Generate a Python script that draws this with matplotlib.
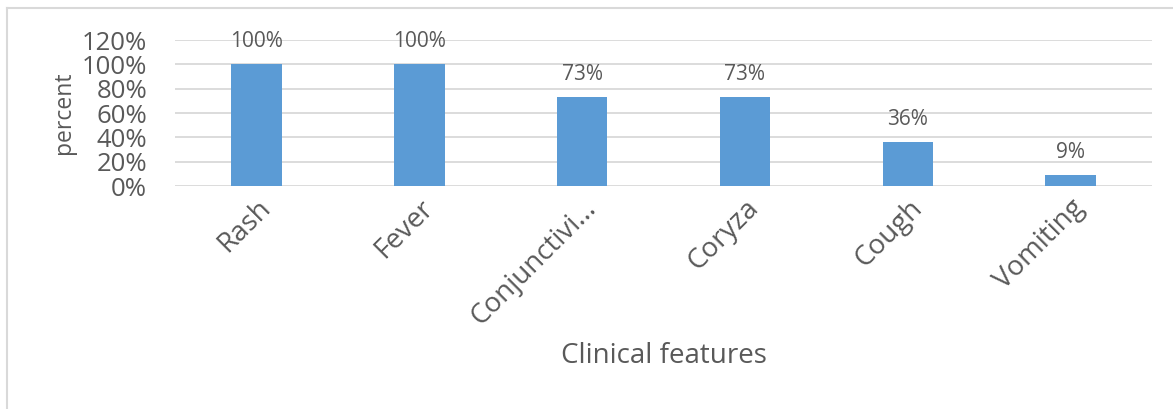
import matplotlib.pyplot as plt
from matplotlib.lines import Line2D
from matplotlib.ticker import FuncFormatter

features = ["Rash", "Fever", "Conjunctivi...", "Coryza", "Cough", "Vomiting"]
percents = [100, 100, 73, 73, 36, 9]
value_labels = ["100%", "100%", "73%", "73%", "36%", "9%"]

TEXT = "#595959"
BLUE = "#5B9BD5"
GRID = "#D9D9D9"

plt.rcParams['font.family'] = ['Open Sans', 'DejaVu Sans']

fig = plt.figure(figsize=(11.73, 4.09), dpi=100)
ax = fig.add_axes([0.1492, 0.5452, 0.8330, 0.3570])

x = range(len(features))
ax.bar(x, percents, width=0.31, color=BLUE, zorder=3)
for xi, val, lab in zip(x, percents, value_labels):
    ax.annotate(lab, (xi, val), xytext=(0, 12.5), textcoords="offset points",
                ha="center", va="baseline", fontsize=15, color=TEXT)

ax.set_xlim(-0.5, len(features) - 0.5)
ax.set_ylim(0, 120)
ax.set_yticks(range(0, 121, 20))
ax.yaxis.set_major_formatter(FuncFormatter(lambda v, p: f"{int(v)}%"))
ax.grid(axis="y", color=GRID, linewidth=1.3, zorder=0)
for s in ax.spines.values():
    s.set_visible(False)
ax.tick_params(axis="both", length=0, colors=TEXT)
ax.tick_params(axis="y", pad=20, labelsize=18.5)
ax.set_xticks(list(x))
ax.set_xticklabels(features, rotation=45, ha="right", rotation_mode="anchor",
                   fontsize=20, color=TEXT)
ax.tick_params(axis="x", pad=6)

ax.set_ylabel("percent", fontsize=16.5, color=TEXT, labelpad=4)
ax.set_xlabel("Clinical features", fontsize=20, color=TEXT, labelpad=8)

# outer chart border (left and top edges visible)
fig.add_artist(Line2D([7 / 1173, 7 / 1173], [0, 1 - 8 / 409],
                      transform=fig.transFigure, color=GRID, linewidth=1.5))
fig.add_artist(Line2D([7 / 1173, 1], [1 - 8 / 409, 1 - 8 / 409],
                      transform=fig.transFigure, color=GRID, linewidth=1.5))

fig.savefig("out.png", dpi=100)
